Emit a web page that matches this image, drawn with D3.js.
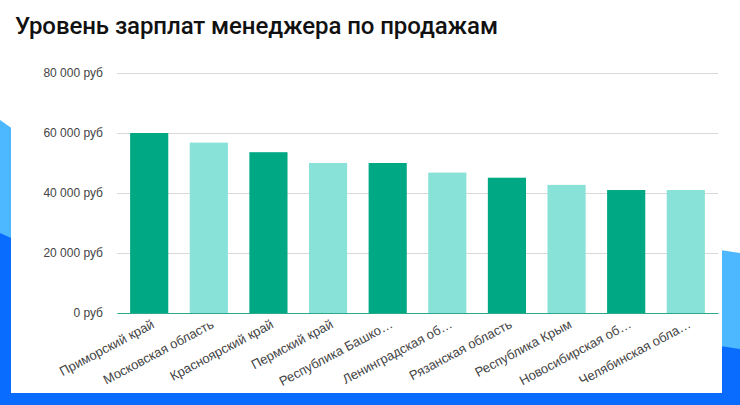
<!DOCTYPE html>
<html><head><meta charset="utf-8">
<script src="https://cdn.jsdelivr.net/npm/d3@7"></script>
<style>body{margin:0;background:#fff}svg{display:block}</style>
</head><body>
<svg width="740" height="405"></svg>
<script>
const regions = ['Приморский край','Московская область','Красноярский край','Пермский край','Республика Башко…','Ленинградская об…','Рязанская область','Республика Крым','Новосибирская об…','Челябинская обла…'];
const salaries = [60000, 56800, 53600, 50000, 50000, 46800, 45100, 42700, 41000, 41000];
const yTicks = [0, 20000, 40000, 60000, 80000];

const svg = d3.select('svg');

// background decoration
svg.append('path').attr('d', 'M0,120 L20,134 L20,405 L0,405Z').attr('fill', '#4db8ff');
svg.append('path').attr('d', 'M0,233 L20,242 L20,405 L0,405Z').attr('fill', '#0a6cff');
svg.append('path').attr('d', 'M720,250 L740,253 L740,405 L720,405Z').attr('fill', '#4db8ff');
svg.append('path').attr('d', 'M720,346 L740,349 L740,405 L720,405Z').attr('fill', '#0a6cff');
svg.append('rect').attr('x', 0).attr('y', 393).attr('width', 740).attr('height', 12).attr('fill', '#0a6cff');
svg.append('rect').attr('x', 11).attr('y', 0).attr('width', 711).attr('height', 393).attr('fill', '#fff');

svg.append('text').attr('x', 15).attr('y', 34)
  .attr('font-family', 'Roboto').attr('font-weight', 500).attr('font-size', 24).attr('fill', '#111')
  .attr('textLength', 483)
  .text('Уровень зарплат менеджера по продажам');

const margin = {left:117, top:73, right:22, bottom:92};
const width = 740 - margin.left - margin.right;
const height = 405 - margin.top - margin.bottom;
const g = svg.append('g').attr('transform', `translate(${margin.left},${margin.top})`);

const x = d3.scaleBand().domain(regions).range([0, width]).paddingInner(0.36).paddingOuter(0.22);
const y = d3.scaleLinear().domain([0, 80000]).range([height, 0]);
const fmt = v => d3.format(',')(v).replace(/,/g, ' ') + ' руб';

const yAxis = g.append('g').call(d3.axisLeft(y).tickValues(yTicks).tickFormat(fmt).tickSize(-width).tickPadding(14));
yAxis.select('.domain').remove();
yAxis.selectAll('.tick line').attr('stroke', '#d9d9d9');
yAxis.selectAll('text').attr('font-family', 'Liberation Sans, Arial').attr('font-size', 12).attr('fill', '#444');

g.selectAll('rect.bar').data(salaries).enter().append('rect')
  .attr('class', 'bar')
  .attr('x', (d, i) => x(regions[i]))
  .attr('y', d => y(d))
  .attr('width', x.bandwidth())
  .attr('height', d => height - y(d))
  .attr('fill', (d, i) => i % 2 ? '#88e2d7' : '#00a884');

const xAxis = g.append('g').attr('transform', `translate(0,${height})`)
  .call(d3.axisBottom(x).tickSize(0).tickPadding(0));
xAxis.select('.domain').attr('stroke', '#2aa889');
xAxis.selectAll('text')
  .attr('font-family', 'Liberation Sans, Arial').attr('font-size', 13).attr('fill', '#444')
  .attr('text-anchor', 'end').attr('dy', 0)
  .attr('transform', 'translate(6,14) rotate(-28)');
</script>
</body></html>
